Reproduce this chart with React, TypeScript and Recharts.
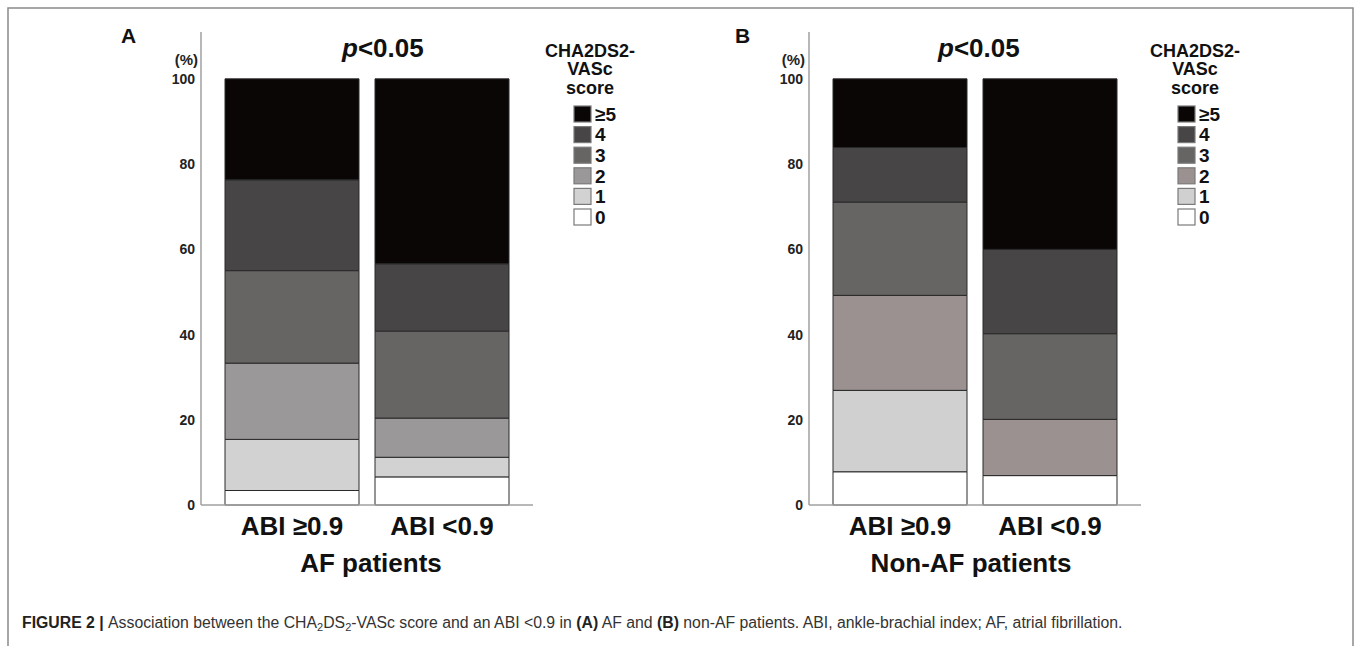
import React from 'react';
import { BarChart, Bar, XAxis, YAxis } from 'recharts';

// ---- data ----
const categories = ['ABI ≥0.9', 'ABI <0.9'];
const scoreKeys = ['s0', 's1', 's2', 's3', 's4', 's5'];
const scoreLabels = ['0', '1', '2', '3', '4', '≥5'];
const yTicks = [0, 20, 40, 60, 80, 100];

// AF patients (panel A), % per CHA2DS2-VASc score
const afScore0 = [3.4, 6.6];
const afScore1 = [12.0, 4.6];
const afScore2 = [17.9, 9.2];
const afScore3 = [21.7, 20.4];
const afScore4 = [21.3, 15.8];
const afScore5 = [23.7, 43.4];

// Non-AF patients (panel B)
const nonAfScore0 = [7.8, 6.9];
const nonAfScore1 = [19.1, 0];
const nonAfScore2 = [22.3, 13.2];
const nonAfScore3 = [21.9, 20.1];
const nonAfScore4 = [12.8, 19.8];
const nonAfScore5 = [16.1, 40.0];

const afColors = ['#ffffff', '#d2d2d2', '#9a9898', '#676564', '#474545', '#0b0606'];
const nonAfColors = ['#ffffff', '#d0d0d0', '#9b9190', '#676564', '#474545', '#0b0606'];

const buildData = (series: number[][]) =>
  categories.map((name, i) => {
    const row: Record<string, any> = { name };
    scoreKeys.forEach((k, j) => (row[k] = series[j][i]));
    return row;
  });

const afData = buildData([afScore0, afScore1, afScore2, afScore3, afScore4, afScore5]);
const nonAfData = buildData([nonAfScore0, nonAfScore1, nonAfScore2, nonAfScore3, nonAfScore4, nonAfScore5]);

const FONT = '"Liberation Sans", Arial, sans-serif';

const YTick = (props: any) => (
  <text
    x={props.x}
    y={props.y}
    textAnchor="end"
    dominantBaseline="central"
    fontFamily={FONT}
    fontWeight="bold"
    fontSize={14}
    fill="#222"
  >
    {props.payload.value}
  </text>
);

const XTick = (props: any) => (
  <text
    x={props.x}
    y={props.y + 30}
    textAnchor="middle"
    fontFamily={FONT}
    fontWeight="bold"
    fontSize={26}
    fill="#111"
  >
    {props.payload.value}
  </text>
);

function Panel({ left, data, colors }: { left: number; data: any[]; colors: string[] }) {
  return (
    <div style={{ position: 'absolute', left, top: 0 }}>
      <BarChart
        width={560}
        height={600}
        data={data}
        margin={{ top: 32, right: 27, bottom: 0, left: 0 }}
        barSize={134}
      >
        <XAxis
          dataKey="name"
          height={95}
          padding={{ left: 16, right: 16 }}
          axisLine={{ stroke: '#a0a0a0', strokeWidth: 1.5 }}
          tickLine={false}
          tickSize={0}
          tickMargin={0}
          tick={<XTick />}
          interval={0}
        />
        <YAxis
          width={201}
          domain={[0, 111]}
          ticks={yTicks}
          axisLine={{ stroke: '#a0a0a0', strokeWidth: 1.5 }}
          tickLine={false}
          tickSize={4}
          tickMargin={2}
          tick={<YTick />}
          interval={0}
        />
        {scoreKeys.map((k, i) => (
          <Bar
            key={k}
            dataKey={k}
            stackId="a"
            fill={colors[i]}
            stroke="#2a2a2a"
            strokeWidth={1}
            isAnimationActive={false}
          />
        ))}
      </BarChart>
    </div>
  );
}

function Legend({ cx, sqX, colors }: { cx: number; sqX: number; colors: string[] }) {
  const rowCenters = [114, 134.6, 155.2, 175.8, 196.4, 217];
  const order = [5, 4, 3, 2, 1, 0];
  return (
    <g fontFamily={FONT} fontWeight="bold" fill="#111">
      <text x={cx} y={56.5} textAnchor="middle" fontSize={18}>CHA2DS2-</text>
      <text x={cx} y={75} textAnchor="middle" fontSize={18}>VASc</text>
      <text x={cx} y={93.5} textAnchor="middle" fontSize={18}>score</text>
      {order.map((idx, r) => (
        <g key={idx}>
          <rect
            x={sqX}
            y={rowCenters[r] - 8}
            width={17}
            height={16}
            fill={colors[idx]}
            stroke="#7a7a7a"
            strokeWidth={1.2}
          />
          <text x={sqX + 21} y={rowCenters[r] + 6.8} fontSize={19}>
            {scoreLabels[idx]}
          </text>
        </g>
      ))}
    </g>
  );
}

const subStyle: React.CSSProperties = { fontSize: 11, verticalAlign: '-3px', lineHeight: '0' };

export default function App() {
  return (
    <div
      style={{
        position: 'absolute',
        left: 0,
        top: 0,
        width: 1357,
        height: 646,
        background: '#fff',
        overflow: 'hidden',
        fontFamily: FONT,
      }}
    >
      <Panel left={0} data={afData} colors={afColors} />
      <Panel left={608} data={nonAfData} colors={nonAfColors} />
      <svg
        width={1357}
        height={646}
        style={{ position: 'absolute', left: 0, top: 0, pointerEvents: 'none' }}
      >
        <rect x={8} y={8} width={1345} height={700} fill="none" stroke="#8a8a8a" strokeWidth={1.5} />

        {/* Panel A annotations */}
        <text x={121} y={43} fontFamily={FONT} fontWeight="bold" fontSize={21} fill="#111">A</text>
        <text x={198} y={65} textAnchor="end" fontFamily={FONT} fontWeight="bold" fontSize={15} fill="#222">(%)</text>
        <text x={342} y={57} fontFamily={FONT} fontWeight="bold" fontSize={26} fill="#111">
          <tspan fontStyle="italic">p</tspan>&lt;0.05
        </text>
        <text x={371} y={572} textAnchor="middle" fontFamily={FONT} fontWeight="bold" fontSize={26} fill="#111">
          AF patients
        </text>
        <Legend cx={590} sqX={574} colors={afColors} />

        {/* Panel B annotations */}
        <text x={735} y={43} fontFamily={FONT} fontWeight="bold" fontSize={21} fill="#111">B</text>
        <text x={805} y={65} textAnchor="end" fontFamily={FONT} fontWeight="bold" fontSize={15} fill="#222">(%)</text>
        <text x={938} y={57} fontFamily={FONT} fontWeight="bold" fontSize={26} fill="#111">
          <tspan fontStyle="italic">p</tspan>&lt;0.05
        </text>
        <text x={971} y={572} textAnchor="middle" fontFamily={FONT} fontWeight="bold" fontSize={26} fill="#111">
          Non-AF patients
        </text>
        <Legend cx={1195} sqX={1178} colors={nonAfColors} />
      </svg>

      {/* Caption */}
      <div
        style={{
          position: 'absolute',
          left: 22,
          top: 614,
          fontSize: 15.8,
          lineHeight: '18px',
          color: '#333',
          whiteSpace: 'nowrap',
        }}
      >
        <b style={{ color: '#222' }}>FIGURE 2 | </b>
        Association between the CHA<span style={subStyle}>2</span>DS<span style={subStyle}>2</span>-VASc score
        and an ABI &lt;0.9 in <b style={{ color: '#222' }}>(A)</b> AF and <b style={{ color: '#222' }}>(B)</b>{' '}
        non-AF patients. ABI, ankle-brachial index; AF, atrial fibrillation.
      </div>
    </div>
  );
}
